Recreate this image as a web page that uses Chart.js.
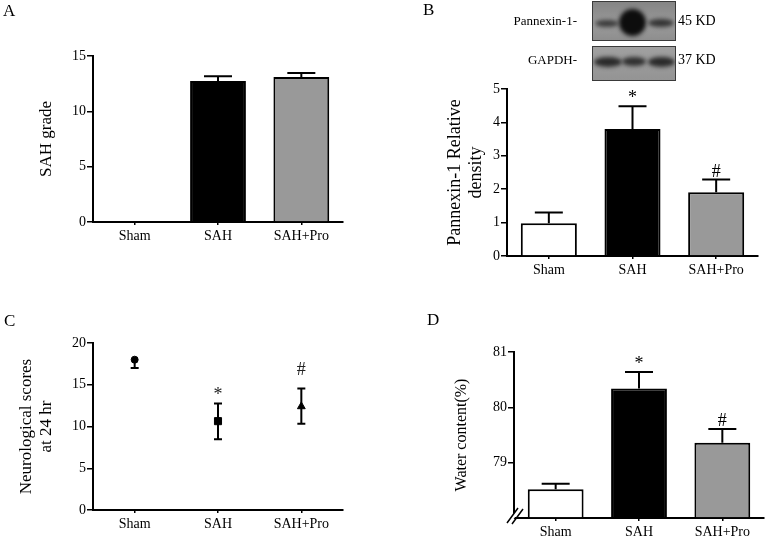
<!DOCTYPE html>
<html>
<head>
<meta charset="utf-8">
<script src="https://cdn.jsdelivr.net/npm/chart.js@4.4.1/dist/chart.umd.min.js"></script>
<style>
body { margin:0; background:#fff; }
#wrap { position:relative; width:765px; height:538px; overflow:hidden; font-family:"Liberation Serif", serif; color:#000; }
canvas { position:absolute; left:0; top:0; }
.letter { position:absolute; font-size:17px; }
.lbl { position:absolute; font-size:13px; white-space:nowrap; }
.blot { position:absolute; border:1px solid #3a3a3a; overflow:hidden; }
.band { position:absolute; border-radius:50%; filter:blur(2px); }
</style>
</head>
<body>
<div id="wrap">
  <canvas id="cA" width="765" height="538"></canvas>
  <canvas id="cB" width="765" height="538"></canvas>
  <canvas id="cC" width="765" height="538"></canvas>
  <canvas id="cD" width="765" height="538"></canvas>

  <div class="letter" style="left:3px;top:1px;">A</div>
  <div class="letter" style="left:423px;top:0px;">B</div>
  <div class="letter" style="left:4px;top:311px;">C</div>
  <div class="letter" style="left:427px;top:310px;">D</div>

  <!-- western blot inset of panel B -->
  <div class="lbl" style="right:188px;top:13px;">Pannexin-1-</div>
  <div class="lbl" style="right:188px;top:52px;">GAPDH-</div>
  <div class="blot" style="left:592px;top:1px;width:82px;height:38px;background:linear-gradient(180deg,#858585,#9a9a9a 60%,#8e8e8e);">
    <div class="band" style="left:2px;top:18px;width:24px;height:7px;background:#3a3a3a;"></div>
    <div class="band" style="left:26px;top:7px;width:27px;height:27px;background:#0d0d0d;"></div>
    <div class="band" style="left:55px;top:17px;width:26px;height:8px;background:#333;"></div>
  </div>
  <div class="blot" style="left:592px;top:46px;width:82px;height:33px;background:linear-gradient(180deg,#a0a0a0,#949494);">
    <div class="band" style="left:1px;top:10px;width:28px;height:10px;background:#2a2a2a;"></div>
    <div class="band" style="left:29px;top:10px;width:24px;height:9px;background:#303030;"></div>
    <div class="band" style="left:55px;top:10px;width:27px;height:10px;background:#2a2a2a;"></div>
  </div>
  <div class="lbl" style="left:678px;top:13px;font-size:14px;">45 KD</div>
  <div class="lbl" style="left:678px;top:52px;font-size:14px;">37 KD</div>
</div>

<script>
// groups shared by every panel
var groups = ['Sham', 'SAH', 'SAH+Pro'];

// A: SAH grade
var gradeMean = [0, 12.74, 13.1];
var gradeSem  = [0, 0.43, 0.37];

// B: Pannexin-1 relative density
var pannexinMean = [0.98, 3.8, 1.91];
var pannexinSem  = [0.32, 0.68, 0.38];

// C: neurological scores at 24 hr
var neuroMean = [18.0, 10.64, 12.4];
var neuroUp   = [0, 2.12, 2.16];
var neuroDown = [1.0, 2.16, 2.08];

// D: brain water content (%)
var waterMean = [78.52, 80.34, 79.36];
var waterSem  = [0.1, 0.3, 0.25];

var signif = ['', '*', '#'];

var barColors = ['#ffffff', '#000000', '#999999'];

Chart.defaults.font.family = '"Liberation Serif", serif';
Chart.defaults.color = '#000';
Chart.defaults.animation = false;
Chart.defaults.events = [];

var errorBars = {
	id: 'errorBars',
	afterDatasetsDraw: function(chart, args, opts) {
		var ctx = chart.ctx;
		var y = chart.scales.y;
		var ds = chart.data.datasets[0];
		var meta = chart.getDatasetMeta(0);
		ctx.save();
		ctx.strokeStyle = '#000';
		ctx.lineWidth = 2;
		meta.data.forEach(function(el, i) {
			var v = ds.data[i];
			var x = el.x;
			var top = y.getPixelForValue(v + opts.up[i]);
			var bot = y.getPixelForValue(v - (opts.down ? opts.down[i] : 0));
			var mid = y.getPixelForValue(v);
			ctx.beginPath();
			if (opts.up[i] > 0) {
				ctx.moveTo(x, mid); ctx.lineTo(x, top);
				ctx.moveTo(x - opts.cap, top); ctx.lineTo(x + opts.cap, top);
			}
			if (opts.down && opts.down[i] > 0) {
				ctx.moveTo(x, mid); ctx.lineTo(x, bot);
				ctx.moveTo(x - opts.cap, bot); ctx.lineTo(x + opts.cap, bot);
			}
			ctx.stroke();
			if (opts.marks && opts.marks[i]) {
				ctx.fillStyle = opts.markColor || '#000';
				ctx.font = '18px "Liberation Serif", serif';
				ctx.textAlign = 'center';
				ctx.textBaseline = 'alphabetic';
				ctx.fillText(opts.marks[i], x, top - opts.gap[i]);
			}
		});
		ctx.restore();
	}
};

// broken axis mark for panel D
var axisBreak = {
	id: 'axisBreak',
	afterDraw: function(chart, args, opts) {
		if (!opts.show) return;
		var ctx = chart.ctx;
		var l = chart.chartArea.left, b = chart.chartArea.bottom;
		ctx.save();
		ctx.fillStyle = '#fff';
		ctx.beginPath();
		ctx.moveTo(l - 6, b + 3); ctx.lineTo(l + 4, b - 10);
		ctx.lineTo(l + 8, b - 10); ctx.lineTo(l - 2, b + 3);
		ctx.closePath();
		ctx.fill();
		ctx.strokeStyle = '#000';
		ctx.lineWidth = 1.5;
		ctx.beginPath();
		ctx.moveTo(l - 7, b + 5); ctx.lineTo(l + 4, b - 10);
		ctx.moveTo(l - 2, b + 6); ctx.lineTo(l + 9, b - 9);
		ctx.stroke();
		ctx.restore();
	}
};

function axes(o) {
	return {
		x: {
			offset: true,
			border: { display: true, color: '#000', width: 2 },
			grid: { display: true, drawOnChartArea: false, offset: false, tickLength: 3, color: '#000', lineWidth: 1.5 },
			ticks: { font: { size: 14 }, padding: 3, maxRotation: 0 },
			afterFit: function(s) { s.height = o.xh; }
		},
		y: {
			min: o.min, max: o.max,
			border: { display: true, color: '#000', width: 2 },
			grid: {
				display: true, drawOnChartArea: false, tickLength: 6, lineWidth: 1.5,
				tickColor: function(c) { return (o.hide !== undefined && c.tick && c.tick.value === o.hide) ? 'rgba(0,0,0,0)' : '#000'; }
			},
			ticks: {
				stepSize: o.step, padding: 1, font: { size: 14 },
				callback: function(v) { return v === o.hide ? '' : v; }
			},
			title: { display: true, text: o.title, font: { size: o.tsize, lineHeight: o.lh }, padding: { top: 4, bottom: 4 } },
			afterFit: function(s) { s.width = o.yw; }
		}
	};
}

function barChart(id, mean, sem, o) {
	return new Chart(document.getElementById(id), {
		type: 'bar',
		data: {
			labels: groups,
			datasets: [{
				data: mean,
				base: o.min,
				backgroundColor: barColors,
				borderColor: '#000',
				borderWidth: 2,
				categoryPercentage: 1,
				barPercentage: 0.67
			}]
		},
		options: {
			responsive: false,
			devicePixelRatio: 1,
			layout: { padding: o.pad },
			plugins: {
				legend: { display: false },
				tooltip: { enabled: false },
				errorBars: { up: sem, cap: 14, marks: o.marks, gap: [3, 3, 3] },
				axisBreak: { show: !!o.brk }
			},
			scales: axes(o)
		},
		plugins: [errorBars, axisBreak]
	});
}

barChart('cA', gradeMean, gradeSem, {
	pad: { left: 32, top: 56, right: 422, bottom: 276 },
	min: 0, max: 15, step: 5, title: 'SAH grade', tsize: 17, lh: 1.2, yw: 61, xh: 40
});

barChart('cB', pannexinMean, pannexinSem, {
	pad: { left: 441, top: 89, right: 7, bottom: 242 },
	min: 0, max: 5, step: 1, title: ['Pannexin-1 Relative', 'density'], tsize: 18, lh: 1.15, yw: 66, xh: 40,
	marks: signif
});

barChart('cD', waterMean, waterSem, {
	pad: { left: 448, top: 352, right: 1, bottom: 0 },
	min: 78, max: 81, step: 1, hide: 78, title: 'Water content(%)', tsize: 16, lh: 1.2, yw: 66, xh: 20,
	marks: signif, brk: true
});

var cOpts = {
	min: 0, max: 20, step: 5, title: ['Neurological scores', 'at 24 hr'], tsize: 17, lh: 1.15, yw: 80, xh: 28
};
new Chart(document.getElementById('cC'), {
	type: 'line',
	data: {
		labels: groups,
		datasets: [{
			data: neuroMean,
			showLine: false,
			pointStyle: ['circle', 'rect', 'triangle'],
			pointRadius: [3.5, 5, 4.5],
			pointBackgroundColor: '#000',
			pointBorderColor: '#000',
			pointBorderWidth: 1
		}]
	},
	options: {
		responsive: false,
		devicePixelRatio: 1,
		layout: { padding: { left: 13, top: 343, right: 422, bottom: 0 } },
		plugins: {
			legend: { display: false },
			tooltip: { enabled: false },
			errorBars: { up: neuroUp, down: neuroDown, cap: 4, marks: signif, gap: [3, 3, 13], markColor: '#222' }
		},
		scales: axes(cOpts)
	},
	plugins: [errorBars]
});
</script>
</body>
</html>
